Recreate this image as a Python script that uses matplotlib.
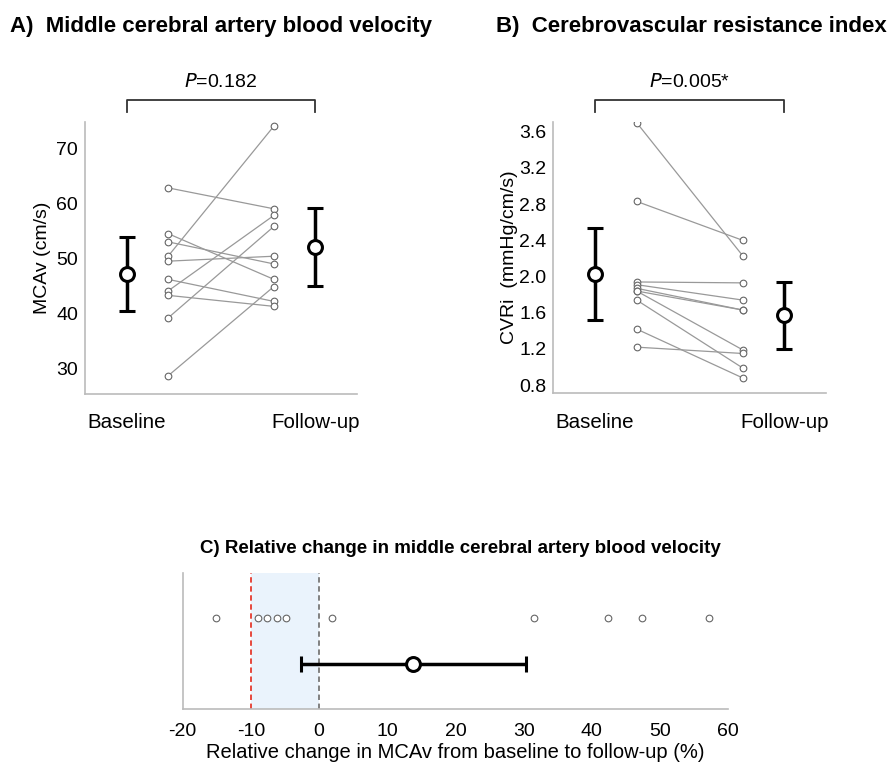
import matplotlib
matplotlib.use('Agg')
import matplotlib.pyplot as plt
import matplotlib.transforms as mtransforms
import numpy as np

plt.rcParams['font.family'] = ['Liberation Sans', 'DejaVu Sans']
plt.rcParams['axes.unicode_minus'] = False

# Panel A: MCAv (cm/s), paired baseline -> follow-up
mcav_baseline = [62.8, 54.5, 53.0, 50.4, 49.5, 46.2, 44.1, 43.3, 39.2, 28.7]
mcav_followup = [59.0, 46.2, 49.0, 74.0, 50.4, 42.2, 57.8, 41.3, 55.8, 44.9]
mcav_mean = [47.1, 52.1]
mcav_sd = [6.7, 7.1]

# Panel B: CVRi (mmHg/cm/s)
cvri_baseline = [3.70, 2.83, 1.94, 1.91, 1.87, 1.84, 1.84, 1.74, 1.42, 1.22]
cvri_followup = [2.23, 2.40, 1.93, 1.74, 1.63, 1.63, 1.19, 0.99, 0.88, 1.15]
cvri_mean = [2.03, 1.57]
cvri_sd = [0.51, 0.37]

# Panel C: relative change in MCAv (%)
rel_change = [-15.1, -8.9, -7.6, -6.1, -4.8, 1.9, 31.5, 42.3, 47.3, 57.2]
rel_mean = 13.8
rel_sd = 16.5

group_labels = ['Baseline', 'Follow-up']
spine_col = '#bbbbbb'


def style_axes(ax):
    for s in ['top', 'right']:
        ax.spines[s].set_visible(False)
    for s in ['left', 'bottom']:
        ax.spines[s].set_color(spine_col)
        ax.spines[s].set_linewidth(1.2)
    ax.tick_params(length=0, labelsize=14, pad=5)


def paired_panel(ax, base, follow, mean, sd, ylim, yticks, ylabel, ptext, ytickfmt):
    style_axes(ax)
    for b, f in zip(base, follow):
        ax.plot([0.22, 0.78], [b, f], color='#999999', lw=0.9, zorder=2)
    ax.plot([0.22] * len(base), base, 'o', ms=4.8, mfc='white', mec='#666666', mew=0.8, zorder=3)
    ax.plot([0.78] * len(follow), follow, 'o', ms=4.8, mfc='white', mec='#666666', mew=0.8, zorder=3)
    ax.errorbar([0, 1], mean, yerr=sd, fmt='o', ms=10, mfc='white', mec='black', mew=2.2,
                ecolor='black', elinewidth=2.5, capsize=6, capthick=2.5, zorder=4)
    ax.set_xlim(-0.22, 1.22)
    ax.set_ylim(*ylim)
    ax.set_yticks(yticks)
    ax.set_yticklabels([ytickfmt.format(v) for v in yticks])
    ax.set_xticks([0, 1])
    ax.set_xticklabels(group_labels, fontsize=14.8)
    ax.tick_params(axis='x', pad=14)
    ax.set_ylabel(ylabel, fontsize=14)
    # significance bracket above the axes
    trans = mtransforms.blended_transform_factory(ax.transData, ax.transAxes)
    ax.plot([0, 0, 1, 1], [1.034, 1.081, 1.081, 1.034], color='#333333', lw=1.3,
            transform=trans, clip_on=False)
    ax.text(0.5, 1.112, ptext, transform=trans, ha='center', va='bottom', fontsize=14)


fig = plt.figure(figsize=(8.88, 7.67), dpi=100)

axA = fig.add_axes([0.0957, 0.4863, 0.3063, 0.3550])
paired_panel(axA, mcav_baseline, mcav_followup, mcav_mean, mcav_sd,
             (25.4, 74.8), [30, 40, 50, 60, 70], 'MCAv (cm/s)', r'$\it{P}$=0.182', '{:.0f}')
axA.yaxis.set_label_coords(-0.125, 0.5)

axB = fig.add_axes([0.6231, 0.4872, 0.3071, 0.3541])
paired_panel(axB, cvri_baseline, cvri_followup, cvri_mean, cvri_sd,
             (0.71, 3.71), [0.8, 1.2, 1.6, 2.0, 2.4, 2.8, 3.2, 3.6], 'CVRi  (mmHg/cm/s)',
             r'$\it{P}$=0.005*', '{:.1f}')
axB.yaxis.set_label_coords(-0.13, 0.5)

fig.text(0.011, 0.965, 'A)  Middle cerebral artery blood velocity', fontsize=16,
         fontweight='bold', va='center', ha='left')
fig.text(0.559, 0.965, 'B)  Cerebrovascular resistance index', fontsize=16,
         fontweight='bold', va='center', ha='left')

# Panel C
axC = fig.add_axes([0.2057, 0.0752, 0.6145, 0.1777])
style_axes(axC)
axC.axvspan(-10, 0, color='#eaf3fc', zorder=0, lw=0)
axC.axvline(-10, color='#e53a2e', ls=(0, (3, 2)), lw=1.3, zorder=1)
axC.axvline(0, color='#777777', ls=(0, (3, 2)), lw=1.3, zorder=1)
axC.plot(rel_change, [2] * len(rel_change), 'o', ms=4.8, mfc='white', mec='#666666', mew=0.8, zorder=3)
axC.errorbar([rel_mean], [1], xerr=[rel_sd], fmt='o', ms=10, mfc='white', mec='black', mew=2.2,
             ecolor='black', elinewidth=2.5, capsize=6, capthick=2.5, zorder=4)
axC.set_xlim(-20, 60)
axC.set_ylim(0, 3)
axC.set_yticks([])
axC.set_xticks(np.arange(-20, 61, 10))
axC.tick_params(axis='x', pad=10)
axC.set_xlabel('Relative change in MCAv from baseline to follow-up (%)', fontsize=14.5, labelpad=2)
fig.text(0.518, 0.285, 'C) Relative change in middle cerebral artery blood velocity', fontsize=13.5,
         fontweight='bold', va='center', ha='center')

fig.savefig('out.png', dpi=100, facecolor='white')
